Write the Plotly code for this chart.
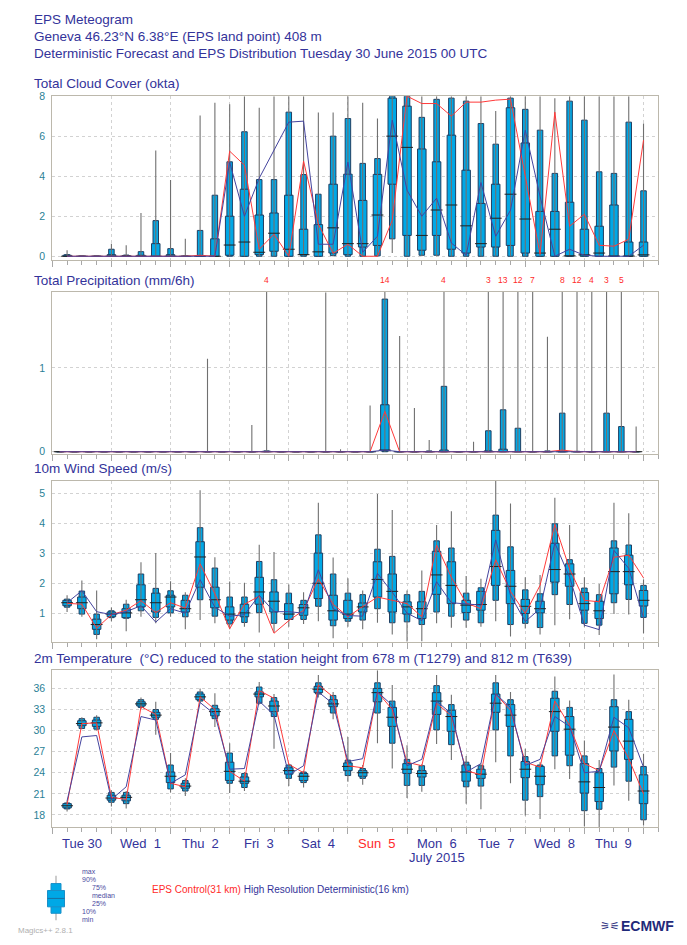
import plotly.graph_objects as go

W, H = 687, 945

# ---------------- data (6-hourly steps, hours after Tue 30 June 2015 00 UTC) ----------------
steps = list(range(6, 241, 6))                 # 40 steps
precip_steps = [h - 3 for h in steps]          # mid-point of 6h accumulation

# Total cloud cover (okta): min, p10, p25, median, p75, p90, max
cc_min = [0]*22 + [0.16] + [0]*17
cc_p10 = [0,0,0,0,0,0,0,0,0,0, 0,0,0,0,0,0,0,0,0.03,0, 0,0.02,0.87,0,0.05,0.05,0,0,0,0, 0,0,0,0,0,0,0,0,0,0]
cc_p25 = [0,0,0,0,0,0,0,0,0,0, 0,0.05,0,0.08,0.25,0,0.08,0,0.16,0.08, 0.46,0.54,3.6,1.04,0.3,1.04,0.35,0.16,0.46,0.46, 0.54,0.16,0,0,0,0,0,0,0,0]
cc_med = [0,0,0,0,0,0,0,0,0,0, 0,0.56,0.71,0.2,1.15,0.35,0.08,0.22,1.42,0.63, 0.63,2.06,6.0,5.44,1.04,2.31,2.56,1.52,0.63,1.9, 3.1,1.86,0.16,1.35,0.02,0.07,0.16,0.01,0.01,0.07]
cc_p75 = [0.05,0,0,0.08,0.03,0.05,0.63,0.08,0,0.03, 0.87,2.0,3.35,2.06,2.16,3.05,1.35,1.58,3.6,4.1, 2.79,4.09,7.9,7.5,5.36,4.72,6.05,4.3,2.64,3.6, 7.42,5.66,2.24,2.24,2.7,1.35,1.5,2.56,0.71,0.71]
cc_p90 = [0.08,0,0,0.35,0.06,0.23,1.78,0.38,0,1.29, 3.05,4.72,6.22,3.83,3.83,7.2,4.08,3.1,6.0,6.88, 4.64,4.88,8,8,6.94,7.84,7.9,7.75,6.63,5.6, 7.9,7.34,6.3,4.14,7.75,6.8,4.22,4.14,6.7,3.27]
cc_max = [0.3,0,0,0.63,0.55,2.16,5.28,3.81,0.87,7.03, 7.67,7.59,8,7.42,8,8,8,7.18,7.18,8, 7.67,6.88,8,8,8,8,8,8,8,7.26, 8,8,8,7.9,8,8,8,8,8,6.63]
cc_ctrl = [0,0,0,0,0,0,0,0,0,0.05, 0,5.25,4.55,0.35,1.1,0,4.75,1.6,0.15,0.6, 0,0,1.8,8,7.63,7.63,7.0,7.7,7.7,7.8, 7.85,4.0,0.1,7.2,1.5,2.1,0.55,0.5,0.85,5.8]
cc_hres = [0,0,0,0,0,0,0,0,0,0, 0,4.7,2.0,3.9,5.3,6.7,6.75,0.6,0.6,4.7, 0.2,1.0,6.8,3.3,2.0,2.9,0.66,0.05,3.68,1.0, 2.3,6.3,3.0,0,0.35,0.05,0,0,0,0.55]

# Total precipitation (mm/6h)
tp_min = [0]*40
tp_p10 = [0]*40
tp_p25 = [0]*22 + [0.01] + [0]*17
tp_med = [0]*22 + [0.02] + [0]*17
tp_p75 = [0,0,0,0,0,0,0,0,0,0, 0,0,0,0,0.005,0,0,0,0,0, 0,0,0.56,0,0,0,0.02,0,0,0.01, 0.03,0,0,0,0,0,0,0,0,0]
tp_p90 = [0,0,0,0,0,0,0,0,0,0, 0,0,0,0,0.01,0,0,0,0,0, 0,0,1.82,0,0,0.01,0.78,0,0,0.25, 0.5,0.28,0,0.01,0.46,0.005,0,0.46,0.3,0]
tp_max = [0,0,0,0,0,0,0,0,0,0, 1.11,0,0,0.32,4,0,0,0,1.9,0.03, 0,0.55,14,1.38,0.52,0.14,4,0,0.12,3, 13,12,7,1.37,8,12,4,3,5,0.3]
tp_ctrl = [0]*22 + [0.48] + [0]*11 + [0.02] + [0]*5
tp_hres = [0]*22 + [0.02] + [0]*17

# 10m wind speed (m/s)
ws_min = [1.04,0.88,0.13,0.73,0.4,0.88,0.66,0.88,0.46,0.77, 0.66,0.46,0.55,0.35,0.35,0.55,0.64,0.73,0.16,0.55,
          0.46,0.68,0.29,0.0,0.05,0.66,0.51,0.51,0.55,0.73, 0.22,0.49,0.29,0.6,0.8,0.55,0.27,0.97,0.96,0.33]
ws_p10 = [1.2,0.97,0.29,0.85,0.83,1.08,0.86,1.01,0.88,1.45, 0.9,0.64,0.69,1.02,0.66,0.79,0.79,1.23,0.58,0.73,
          0.77,1.15,0.68,0.71,0.62,1.04,0.9,0.77,0.68,1.43, 0.62,0.66,0.52,1.62,1.29,0.66,0.6,1.35,1.46,0.86]
ws_p25 = [1.25,1.15,0.46,0.88,0.85,1.21,1.04,1.21,1.04,1.87, 1.18,0.77,0.88,1.3,1.04,0.79,0.93,1.49,0.77,0.82,
          1.04,1.54,1.04,0.97,0.82,1.63,1.32,1.02,1.1,1.93, 1.32,0.99,1.01,2.04,1.9,1.1,0.82,1.65,1.95,1.24]
ws_med = [1.35,1.35,0.62,0.97,1.01,1.45,1.35,1.54,1.15,2.88, 1.45,0.97,1.01,1.71,1.4,0.97,1.18,2.0,1.08,0.97,
          1.21,2.13,1.73,1.21,1.15,2.28,1.93,1.27,1.29,2.56, 1.9,1.23,1.15,2.46,2.31,1.32,1.08,2.39,2.39,1.43]
ws_p75 = [1.43,1.54,0.8,1.04,1.15,1.95,1.67,1.6,1.43,3.39, 1.87,1.21,1.3,2.2,1.71,1.32,1.29,3.01,1.6,1.43,
          1.34,2.72,2.31,1.38,1.38,3.07,2.72,1.43,1.73,3.77, 2.43,1.46,1.4,3.34,2.65,1.69,1.4,3.18,2.94,1.76]
ws_p90 = [1.47,1.74,0.97,1.08,1.3,2.31,1.83,1.75,1.6,3.86, 2.51,1.54,1.54,2.73,2.12,1.67,1.43,3.62,2.31,1.67,
          1.62,3.14,2.9,1.62,1.73,3.42,3.18,1.67,1.85,4.28, 3.22,1.78,1.65,3.99,2.79,1.84,1.62,3.42,3.28,1.93]
ws_max = [1.6,2.09,1.76,1.19,1.45,2.7,3.01,2.07,1.7,5.11, 2.87,2.06,2.02,3.29,3.05,1.96,1.7,4.69,2.86,2.17,
          1.76,4.99,4.45,1.76,2.43,3.95,4.41,2.24,2.15,5.5, 4.67,2.2,2.28,4.86,3.95,2.2,1.98,4.69,4.34,2.13]
ws_ctrl = [1.33,1.3,0.5,0.95,1.1,1.42,1.02,1.35,1.17,2.65, 1.65,0.48,1.3,1.57,0.33,0.75,1.1,2.15,1.3,0.88,
           1.22,1.54,1.43,1.32,0.88,3.28,2.2,1.34,1.15,2.79, 1.73,0.99,1.93,3.97,2.48,1.43,1.38,2.87,2.94,2.18]
ws_hres = [1.35,1.75,1.05,0.95,1.05,1.25,0.7,1.15,1.0,2.12, 1.2,0.9,0.95,1.6,1.05,1.05,1.0,2.45,1.15,0.92,
           0.9,2.33,1.7,1.0,0.75,2.05,1.35,1.3,1.27,3.45, 1.6,0.72,1.15,3.35,2.2,0.6,0.45,3.1,2.5,0.85]

# 2m temperature (deg C)
t_min = [18.5,30.2,30.0,19.2,18.9,33.0,29.4,21.2,20.7,33.9, 30.5,21.1,21.4,33.7,27.4,22.1,21.9,34.7,31.6,22.7,
         22.3,28.2,24.6,20.4,21.3,28.1,25.8,19.6,18.8,25.5, 22.5,17.9,17.4,24.5,23.1,16.4,16.1,22.2,20.0,16.5]
t_p10 = [18.85,30.3,30.2,19.8,19.6,33.3,31.6,21.7,21.4,34.2, 31.7,22.5,21.9,33.9,32.0,23.2,22.6,35.2,32.5,23.6,
         23.2,32.5,28.2,22.2,22.2,30.1,28.0,22.0,22.1,30.1, 26.4,20.1,20.6,26.4,25.0,18.6,18.8,24.8,22.8,17.3]
t_p25 = [19.0,30.7,30.6,20.1,20.0,33.5,31.9,22.6,21.8,34.4, 32.1,22.9,22.5,34.8,32.7,23.8,22.9,35.4,33.4,24.3,
         23.5,34.1,30.6,23.9,23.4,32.3,29.9,22.8,23.2,32.6, 30.6,23.3,22.3,29.9,26.5,21.1,19.9,27.1,25.9,19.6]
t_med = [19.3,31.0,31.1,20.4,20.5,33.8,32.2,23.5,22.1,34.8, 32.7,24.2,22.8,35.2,33.5,24.3,23.5,35.9,33.8,24.9,
         24.0,35.4,31.9,24.5,23.9,34.2,32.0,24.1,23.8,33.9, 32.2,24.5,23.5,32.7,30.2,22.7,21.9,30.5,28.5,21.4]
t_p75 = [19.6,31.4,31.5,20.8,20.8,34.1,32.6,24.1,22.5,35.2, 33.1,25.5,23.4,35.5,34.2,24.7,23.9,36.3,34.4,25.4,
         24.3,36.0,33.3,25.3,24.3,35.4,32.9,25.1,24.5,35.2, 33.7,25.6,24.9,34.6,32.0,25.3,24.0,33.4,31.6,23.7]
t_p90 = [19.7,31.7,31.9,21.2,21.2,34.4,33.0,25.1,22.9,35.5, 33.6,26.8,23.9,36.2,34.7,25.1,24.1,36.8,35.0,25.8,
         24.6,36.8,34.2,25.9,25.0,36.4,33.7,25.5,25.0,36.8, 34.4,26.3,25.1,35.6,33.3,26.4,24.6,34.4,32.7,24.9]
t_max = [20.0,31.9,32.2,21.5,21.4,34.7,34.1,26.8,23.2,36.0, 35.3,28.2,24.1,36.9,35.2,25.3,24.3,37.9,35.5,29.1,
         25.1,38.6,36.5,27.9,25.2,37.9,35.1,26.4,25.3,37.9, 35.5,27.4,25.5,37.7,34.3,28.6,25.8,38.0,34.4,26.7]
t_ctrl = [19.5,31.0,31.1,20.5,20.2,33.4,32.3,22.5,22.0,34.8, 33.0,24.2,22.8,35.7,34.6,25.2,24.0,36.5,34.8,25.0,
          24.7,35.5,33.0,25.5,25.0,33.9,32.1,24.3,23.7,35.2, 32.9,25.5,24.8,34.2,30.7,25.3,24.3,30.0,26.0,21.0]
t_hres = [20.0,29.1,29.3,20.2,22.0,32.0,31.5,22.5,23.7,34.0, 32.3,24.5,24.6,34.2,32.2,23.7,25.0,35.5,33.8,25.6,
          26.0,35.5,33.6,25.0,25.9,34.2,32.4,24.1,25.3,35.2, 33.3,25.05,25.9,32.0,30.6,24.0,24.2,31.9,30.4,24.8]

day_labels = ["Tue 30", "Wed  1", "Thu  2", "Fri  3", "Sat  4", "Sun  5", "Mon  6", "Tue  7", "Wed  8", "Thu  9"]
day_colors = ["#33339a"]*5 + ["#ff2a2a"] + ["#33339a"]*4

# ---------------- styling ----------------
NAVY = "#33339a"
TEAL = "#2a7f96"
BOX = "#00a8e6"
BOXLINE = "#1f3f62"
WHISK = "#707070"
RED = "#ff3a3a"
BLUE = "#44449e"
FRAME = "#bcb8ac"
GRID = "#d2d2d2"
FONT = "Liberation Sans, Arial, sans-serif"

XMAX = 246.0
PX_PER_H = (658.3 - 52.3) / XMAX
NARROW_W = 5.5 / PX_PER_H
WIDE_W = 8.5 / PX_PER_H

panels = [
    dict(top=91.0, bot=256.7, rng=[-0.2, 8.0], ticks=[0, 2, 4, 6, 8],
         title="Total Cloud Cover (okta)", ty=78.5),
    dict(top=288.3, bot=452.3, rng=[-0.027, 1.91], ticks=[0, 1],
         title="Total Precipitation (mm/6h)", ty=277),
    dict(top=479.3, bot=641.7, rng=[0.05, 5.43], ticks=[1, 2, 3, 4, 5],
         title="10m Wind Speed (m/s)", ty=467),
    dict(top=670.7, bot=829.3, rng=[16.22, 38.58], ticks=[18, 21, 24, 27, 30, 33, 36],
         title="2m Temperature  (°C) reduced to the station height from 678 m (T1279) and 812 m (T639)", ty=659),
]

series = [
    (steps, cc_min, cc_p10, cc_p25, cc_med, cc_p75, cc_p90, cc_max, cc_ctrl, cc_hres),
    (precip_steps, tp_min, tp_p10, tp_p25, tp_med, tp_p75, tp_p90, tp_max, tp_ctrl, tp_hres),
    (steps, ws_min, ws_p10, ws_p25, ws_med, ws_p75, ws_p90, ws_max, ws_ctrl, ws_hres),
    (steps, t_min, t_p10, t_p25, t_med, t_p75, t_p90, t_max, t_ctrl, t_hres),
]


def py(y):
    return 1 - y / H


def pxx(x):
    return x / W


fig = go.Figure()
layout = dict(width=W, height=H, margin=dict(l=0, r=0, t=0, b=0),
              paper_bgcolor="white", plot_bgcolor="white", showlegend=False,
              barmode="overlay", font=dict(family=FONT, color=NAVY))
annotations = []
shapes = []

for i, (p, s) in enumerate(zip(panels, series), start=1):
    xa = "x" if i == 1 else f"x{i}"
    ya = "y" if i == 1 else f"y{i}"
    xs, mn, p10, p25, med, p75, p90, mx, ctrl, hres = s

    wx, wy = [], []
    for x, a, b in zip(xs, mn, mx):
        wx += [x, x, None]
        wy += [a, b, None]
    fig.add_trace(go.Scatter(x=wx, y=wy, mode="lines", xaxis=xa, yaxis=ya,
                             line=dict(color=WHISK, width=1.1), hoverinfo="skip"))
    fig.add_trace(go.Bar(x=xs, base=p10, y=[b - a for a, b in zip(p10, p90)], width=NARROW_W,
                         xaxis=xa, yaxis=ya, marker=dict(color=BOX, line=dict(color=BOXLINE, width=1))))
    fig.add_trace(go.Bar(x=xs, base=p25, y=[b - a for a, b in zip(p25, p75)], width=WIDE_W,
                         xaxis=xa, yaxis=ya, marker=dict(color=BOX, line=dict(color=BOXLINE, width=1))))
    fig.add_trace(go.Scatter(x=xs, y=med, mode="markers", xaxis=xa, yaxis=ya,
                             marker=dict(symbol="line-ew", size=8.5, line=dict(color="#222222", width=1)),
                             hoverinfo="skip"))
    fig.add_trace(go.Scatter(x=xs, y=ctrl, mode="lines", xaxis=xa, yaxis=ya,
                             line=dict(color=RED, width=1)))
    fig.add_trace(go.Scatter(x=xs, y=hres, mode="lines", xaxis=xa, yaxis=ya,
                             line=dict(color=BLUE, width=1)))

    dom_y = [py(p["bot"]), py(p["top"])]
    layout["xaxis" if i == 1 else f"xaxis{i}"] = dict(
        domain=[pxx(52.3), pxx(658.3)], range=[0, XMAX], anchor=ya,
        tick0=0, dtick=24, ticks="outside", ticklen=6, tickcolor="#a8a8a8", showticklabels=False,
        showgrid=True, gridcolor=GRID, griddash="dot", gridwidth=1,
        showline=True, linecolor=FRAME, linewidth=1, mirror=True, zeroline=False,
        minor=dict(dtick=6, tick0=0, ticks="outside", ticklen=4, tickcolor="#a8a8a8", showgrid=False),
        fixedrange=True)
    layout["yaxis" if i == 1 else f"yaxis{i}"] = dict(
        domain=dom_y, range=p["rng"], anchor=xa, tickvals=p["ticks"],
        tickfont=dict(size=10.5, color=TEAL, family=FONT), ticks="", ticklabelstandoff=4,
        showgrid=True, gridcolor=GRID, griddash="dot", gridwidth=1,
        showline=True, linecolor=FRAME, linewidth=1, mirror=True, zeroline=False, fixedrange=True)

    annotations.append(dict(text=p["title"], x=pxx(32), y=py(p["ty"]), xref="paper", yref="paper",
                            xanchor="left", yanchor="middle", showarrow=False,
                            font=dict(size=13.5, color=NAVY, family=FONT)))

# precipitation maxima exceeding the axis: labelled at top
for x, m in zip(precip_steps, tp_max):
    if m > panels[1]["rng"][1]:
        annotations.append(dict(text=str(int(round(m))), x=x, xref="x2", y=py(277), yref="paper",
                                showarrow=False, xanchor="center", yanchor="middle",
                                font=dict(size=8.5, color="#ff2a2a", family=FONT)))

# day labels under the bottom panel
for d, (lab, col) in enumerate(zip(day_labels, day_colors)):
    annotations.append(dict(text=lab, x=12 + 24 * d, xref="x4", y=py(846), yref="paper",
                            showarrow=False, xanchor="center", yanchor="middle",
                            font=dict(size=13, color=col, family=FONT)))
annotations.append(dict(text="July 2015", x=12 + 24 * 6, xref="x4", y=py(860), yref="paper",
                        showarrow=False, xanchor="center", yanchor="middle",
                        font=dict(size=13, color=NAVY, family=FONT)))

# header
for txt, yy in [("EPS Meteogram", 13.5),
                ("Geneva 46.23°N 6.38°E (EPS land point) 408 m", 30.5),
                ("Deterministic Forecast and EPS Distribution Tuesday 30 June 2015 00 UTC", 47.5)]:
    annotations.append(dict(text=txt, x=pxx(32), y=py(yy), xref="paper", yref="paper",
                            xanchor="left", yanchor="middle", showarrow=False,
                            font=dict(size=13.5, color=NAVY, family=FONT)))

# legend glyph (box plot key)
shapes.append(dict(type="line", xref="paper", yref="paper", x0=pxx(56), x1=pxx(56), y0=py(878), y1=py(923),
                   line=dict(color="#bbbbbb", width=1.5)))
shapes.append(dict(type="rect", xref="paper", yref="paper", x0=pxx(51), x1=pxx(61), y0=py(886), y1=py(916),
                   fillcolor=BOX, line=dict(color="#1a8fc8", width=1)))
shapes.append(dict(type="rect", xref="paper", yref="paper", x0=pxx(47.5), x1=pxx(64.5), y0=py(893), y1=py(909.5),
                   fillcolor=BOX, line=dict(color="#1a8fc8", width=1)))
shapes.append(dict(type="line", xref="paper", yref="paper", x0=pxx(47.5), x1=pxx(64.5), y0=py(901), y1=py(901),
                   line=dict(color="#1a6fa0", width=1)))
for txt, xx, yy in [("max", 80, 874), ("90%", 80, 882), ("75%", 90, 890), ("median", 90, 898),
                    ("25%", 90, 906), ("10%", 80, 914), ("min", 80, 922)]:
    annotations.append(dict(text=txt, x=pxx(xx), y=py(yy), xref="paper", yref="paper",
                            xanchor="left", yanchor="middle", showarrow=False,
                            font=dict(size=7, color="#4a4aa0", family=FONT)))

annotations.append(dict(text="<span style='color:#ff2a2a'>EPS Control(31 km)</span> High Resolution Deterministic(16 km)",
                        x=pxx(150), y=py(892), xref="paper", yref="paper", xanchor="left", yanchor="middle",
                        showarrow=False, font=dict(size=10, color=NAVY, family=FONT)))
annotations.append(dict(text="Magics++ 2.8.1", x=pxx(16), y=py(933), xref="paper", yref="paper",
                        xanchor="left", yanchor="middle", showarrow=False,
                        font=dict(size=8, color="#b0b0b0", family=FONT)))
annotations.append(dict(text="<b>ECMWF</b>", x=pxx(676), y=py(929), xref="paper", yref="paper",
                        xanchor="right", yanchor="middle", showarrow=False,
                        font=dict(size=14, color="#1f2a7a", family="Liberation Sans, Arial")))
annotations.append(dict(text="<b>⚞⚟</b>", x=pxx(622), y=py(929), xref="paper", yref="paper",
                        xanchor="right", yanchor="middle", showarrow=False,
                        font=dict(size=11, color="#1f2a7a", family="DejaVu Sans")))

layout["annotations"] = annotations
layout["shapes"] = shapes
fig.update_layout(**layout)
fig.write_html("out.html", config={"displayModeBar": False},
               post_script="document.body.style.margin='0';document.body.style.overflow='hidden';")
